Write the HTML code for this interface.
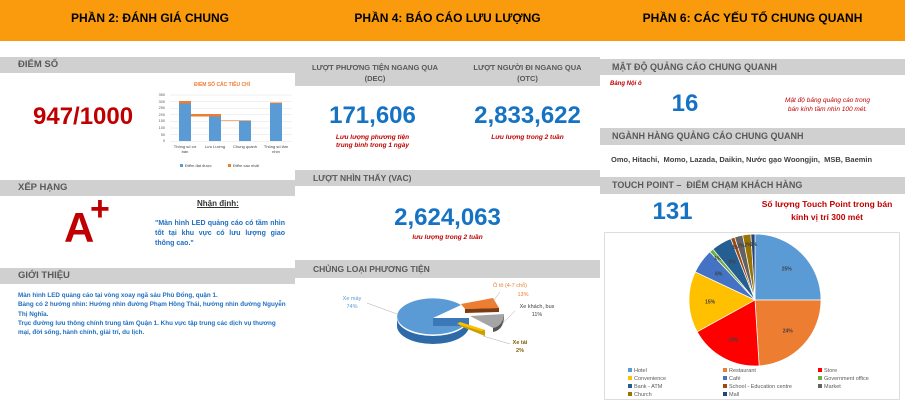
<!DOCTYPE html>
<html><head><meta charset="utf-8">
<style>
*{margin:0;padding:0;box-sizing:border-box}
body{width:905px;height:403px;background:#fff;position:relative;overflow:hidden;font-family:"Liberation Sans","Noto Sans CJK SC",sans-serif}
.a{position:absolute;white-space:nowrap}
.hdr{position:absolute;top:0;height:41px;background:#f99b0c;font-weight:bold;font-size:12.5px;color:#1a1a1a;text-align:center;line-height:36px}
.bar{position:absolute;background:#d0d0d0;color:#595959;font-weight:bold;font-size:9.5px;padding-left:18px}
.big{position:absolute;font-weight:bold;color:#1672c3;text-align:center}
.cap{position:absolute;color:#c00000;font-style:italic;font-weight:bold;font-size:6.5px;text-align:center}
</style></head><body>
<div class="hdr" style="left:0;width:905px"></div>
<div class="a" style="left:0;width:300px;top:11px;text-align:center;font-weight:bold;font-size:12px">PHẦN 2: ĐÁNH GIÁ CHUNG</div>
<div class="a" style="left:295px;width:305px;top:11px;text-align:center;font-weight:bold;font-size:12px">PHẦN 4: BÁO CÁO LƯU LƯỢNG</div>
<div class="a" style="left:600px;width:305px;top:11px;text-align:center;font-weight:bold;font-size:12px">PHẦN 6: CÁC YẾU TỐ CHUNG QUANH</div>

<!-- LEFT -->
<div class="bar" style="left:0;top:57px;width:295px;height:16px;line-height:16px">ĐIỂM SỐ</div>
<div class="a" style="left:33px;top:103px;font-size:24px;font-weight:bold;color:#c00000">947/1000</div>
<svg class="a" style="left:150px;top:76px" width="145" height="100">
 <text x="72" y="10" font-size="5" fill="#ed7d31" font-weight="bold" text-anchor="middle" font-family="Liberation Sans">ĐIỂM SỐ CÁC TIÊU CHÍ</text>
 <g stroke="#e0e0e0" stroke-width="0.5">
  <line x1="20" x2="142" y1="19" y2="19"/><line x1="20" x2="142" y1="25.6" y2="25.6"/><line x1="20" x2="142" y1="32.2" y2="32.2"/><line x1="20" x2="142" y1="38.8" y2="38.8"/><line x1="20" x2="142" y1="45.4" y2="45.4"/><line x1="20" x2="142" y1="52" y2="52"/><line x1="20" x2="142" y1="58.6" y2="58.6"/><line x1="20" x2="142" y1="65.2" y2="65.2"/>
 </g>
 <g font-size="3.8" fill="#595959" font-family="Liberation Sans" text-anchor="end">
  <text x="15" y="20">350</text><text x="15" y="27">300</text><text x="15" y="33">250</text><text x="15" y="40">200</text><text x="15" y="46">150</text><text x="15" y="53">100</text><text x="15" y="60">50</text><text x="15" y="66">0</text>
 </g>
 <rect x="29" y="27" width="12" height="38" fill="#5b9bd5"/><rect x="29" y="25" width="12" height="2.5" fill="#ed7d31"/>
 <rect x="59" y="40" width="12" height="25" fill="#5b9bd5"/><rect x="41" y="38" width="30" height="2.5" fill="#ed7d31"/>
 <rect x="89" y="45" width="12" height="20" fill="#5b9bd5"/><rect x="71" y="44" width="30" height="1" fill="#f4b183"/>
 <rect x="120" y="27" width="12" height="38" fill="#5b9bd5"/><rect x="120" y="26.5" width="12" height="1" fill="#ed7d31"/>
 <g font-size="4" fill="#404040" font-family="Liberation Sans" text-anchor="middle">
  <text x="35" y="72">Thông số cơ</text><text x="35" y="77">bán</text><text x="65" y="72">Lưu Lượng</text><text x="95" y="72">Chung quanh</text><text x="126" y="72">Thông số lâm</text><text x="126" y="77">nhìn</text>
 </g>
 <rect x="30" y="88" width="3" height="3" fill="#5b9bd5"/><text x="35" y="91" font-size="4" fill="#404040" font-family="Liberation Sans">Điểm đạt được</text>
 <rect x="78" y="88" width="3" height="3" fill="#ed7d31"/><text x="83" y="91" font-size="4" fill="#404040" font-family="Liberation Sans">Điểm cao nhất</text>
</svg>
<div class="bar" style="left:0;top:180px;width:295px;height:16px;line-height:16px">XẾP HẠNG</div>
<div class="a" style="left:64px;top:207px;font-size:42px;font-weight:bold;color:#c00000;line-height:1">A</div>
<div class="a" style="left:90px;top:192px;font-size:34px;font-weight:bold;color:#c00000;line-height:1">+</div>
<div class="a" style="left:197px;top:199px;font-size:8px;font-weight:bold;text-decoration:underline;color:#333">Nhận định:</div>
<div class="a" style="left:155px;top:219px;width:130px;white-space:normal;font-size:7px;font-weight:bold;color:#1f6fc0;line-height:10px;text-align:justify">"Màn hình LED quảng cáo có tầm nhìn tốt tại khu vực có lưu lượng giao thông cao."</div>
<div class="bar" style="left:0;top:268px;width:295px;height:16px;line-height:16px">GIỚI THIỆU</div>
<div class="a" style="left:18px;top:291px;width:272px;white-space:normal;font-size:6.3px;font-weight:bold;color:#1f6fc0;line-height:9.3px">Màn hình LED quảng cáo tại vòng xoay ngã sáu Phù Đổng, quận 1.<br>Bảng có 2 hướng nhìn: Hướng nhìn đường Phạm Hồng Thái, hướng nhìn đường Nguyễn Thị Nghĩa.<br>Trục đường lưu thông chính trung tâm Quận 1. Khu vực tập trung các dịch vụ thương mại, đời sống, hành chính, giải trí, du lịch.</div>

<!-- MIDDLE -->
<div class="bar" style="left:295px;top:57px;width:305px;height:29px;padding:0"></div>
<div class="a" style="left:300px;top:62px;width:150px;text-align:center;font-size:7.5px;font-weight:bold;color:#595959;line-height:11px">LƯỢT PHƯƠNG TIỆN NGANG QUA<br>(DEC)</div>
<div class="a" style="left:455px;top:62px;width:145px;text-align:center;font-size:7.5px;font-weight:bold;color:#595959;line-height:11px">LƯỢT NGƯỜI ĐI NGANG QUA<br>(OTC)</div>
<div class="big" style="left:300px;width:145px;top:102px;font-size:24px">171,606</div>
<div class="cap" style="left:300px;width:145px;top:134px;line-height:8px">Lưu lượng phương tiện<br>trung bình trong 1 ngày</div>
<div class="big" style="left:455px;width:145px;top:102px;font-size:24px">2,833,622</div>
<div class="cap" style="left:455px;width:145px;top:134px">Lưu lượng trong 2 tuần</div>
<div class="bar" style="left:295px;top:170px;width:305px;height:16px;line-height:16px;font-size:8.5px">LƯỢT NHÌN THẤY (VAC)</div>
<div class="big" style="left:295px;width:305px;top:204px;font-size:24px">2,624,063</div>
<div class="cap" style="left:295px;width:305px;top:234px">lưu lượng trong 2 tuần</div>
<div class="bar" style="left:295px;top:260px;width:305px;height:18px;line-height:18px;font-size:8.5px">CHỦNG LOẠI PHƯƠNG TIỆN</div>
<svg class="a" style="left:295px;top:278px" width="305" height="80">
 <text x="57" y="22" font-size="5.5" fill="#5b9bd5" font-family="Liberation Sans" text-anchor="middle">Xe máy</text>
 <text x="57" y="30" font-size="5.5" fill="#5b9bd5" font-family="Liberation Sans" text-anchor="middle">74%</text>
 <line x1="72" y1="25" x2="102" y2="36" stroke="#aaa" stroke-width="0.5"/>
 <path d="M102 40 A36 18 0 0 0 174 40 L174 48 A36 18 0 0 1 102 48 Z" fill="#2e6aa8"/>
 <path d="M138 40 L166 27 A36 18 0 1 0 174 40 Z" fill="#5b9bd5"/>
 <path d="M138 40 L174 40 L174 48 L138 48 Z" fill="#3a78b8"/>
 <path d="M166 26 L198 20 L204 30 L170 31 Z" fill="#ed7d31"/><path d="M170 31 L204 30 L204 34 L170 35Z" fill="#7a3a12"/>
 <path d="M175 38 L209 36 Q208 48 198 50 Z" fill="#a5a5a5"/><path d="M198 50 Q208 48 209 36 L209 40 Q208 52 198 54Z" fill="#555"/>
 <path d="M165 44 L190 52 L190 58 L165 48Z" fill="#c9a000"/><path d="M165 44 L190 52 L186 53 L162 46Z" fill="#ffc000"/>
 <line x1="196" y1="26" x2="205" y2="14" stroke="#aaa" stroke-width="0.5"/>
 <text x="215" y="9" font-size="5.5" fill="#ed7d31" font-family="Liberation Sans" text-anchor="middle">Ô tô (4-7 chỗ)</text>
 <text x="228" y="18" font-size="5.5" fill="#ed7d31" font-family="Liberation Sans" text-anchor="middle">13%</text>
 <line x1="207" y1="46" x2="220" y2="33" stroke="#aaa" stroke-width="0.5"/>
 <text x="242" y="30" font-size="5.5" fill="#404040" font-family="Liberation Sans" text-anchor="middle">Xe khách, bus</text>
 <text x="242" y="38" font-size="5.5" fill="#404040" font-family="Liberation Sans" text-anchor="middle">11%</text>
 <line x1="188" y1="58" x2="215" y2="66" stroke="#aaa" stroke-width="0.5"/>
 <text x="225" y="66" font-size="5.5" fill="#806000" font-family="Liberation Sans" text-anchor="middle" font-weight="bold">Xe tải</text>
 <text x="225" y="74" font-size="5.5" fill="#806000" font-family="Liberation Sans" text-anchor="middle" font-weight="bold">2%</text>
</svg>

<!-- RIGHT -->
<div class="bar" style="left:600px;top:59px;width:305px;height:16px;line-height:16px;padding-left:12px;font-size:9px">MẬT ĐỘ QUẢNG CÁO CHUNG QUANH</div>
<div class="a" style="left:610px;top:81px;font-size:6px;font-style:italic;font-weight:bold;color:#c00000">Bảng Nội ô</div>
<div class="big" style="left:660px;width:50px;top:90px;font-size:24px">16</div>
<div class="cap" style="left:765px;width:125px;top:96px;line-height:9px;font-size:6.5px;font-weight:normal">Mật độ bảng quảng cáo trong<br>bán kính tầm nhìn 100 mét.</div>
<div class="bar" style="left:600px;top:128px;width:305px;height:17px;line-height:17px;padding-left:12px;font-size:9px">NGÀNH HÀNG QUẢNG CÁO CHUNG QUANH</div>
<div class="a" style="left:611px;top:155px;font-size:7.5px;font-weight:bold;color:#404040">Omo, Hitachi,&nbsp; Momo, Lazada, Daikin, Nước gạo Woongjin,&nbsp; MSB, Baemin</div>
<div class="bar" style="left:600px;top:177px;width:305px;height:17px;line-height:17px;padding-left:12px;font-size:9px">TOUCH POINT –&nbsp; ĐIỂM CHẠM KHÁCH HÀNG</div>
<div class="big" style="left:645px;width:55px;top:198px;font-size:24px">131</div>
<div class="a" style="left:752px;width:150px;top:198px;text-align:center;font-size:8.5px;font-weight:bold;color:#c00000;line-height:13px">Số lượng Touch Point trong bán<br>kính vị trí 300 mét</div>
<div class="a" style="left:604px;top:232px;width:296px;height:168px;border:1px solid #ddd"></div>
<svg id="pie" class="a" style="left:600px;top:225px" width="305" height="178"></svg>
<script>
var d=[[25,"#5b9bd5","Hotel"],[24,"#ed7d31","Restaurant"],[18,"#ff0000","Store"],[15,"#ffc000","Convenience"],[6,"#4472c4","Café"],[1,"#70ad47","Government office"],[5,"#255e91","Bank - ATM"],[1,"#9e480e","School - Education centre"],[2,"#636363","Market"],[2,"#997300","Church"],[1,"#264478","Mall"]];
var cx=155,cy=75,r=66,a=0,s="";
d.forEach(function(e){var a2=a+e[0]/100*2*Math.PI;var x1=cx+r*Math.sin(a),y1=cy-r*Math.cos(a),x2=cx+r*Math.sin(a2),y2=cy-r*Math.cos(a2);
s+='<path d="M'+cx+' '+cy+' L'+x1+' '+y1+' A'+r+' '+r+' 0 '+((a2-a)>Math.PI?1:0)+' 1 '+x2+' '+y2+' Z" fill="'+e[1]+'" stroke="#fff" stroke-width="0.7"/>';
var m=(a+a2)/2,rr=e[0]>3?r*0.68:r*0.85;s+='<text x="'+(cx+rr*Math.sin(m))+'" y="'+(cy-rr*Math.cos(m)+2)+'" font-size="5" font-weight="bold" fill="#404040" text-anchor="middle" font-family="Liberation Sans">'+e[0]+'%</text>';a=a2;});
d.forEach(function(e,i){var col=i%3,row=Math.floor(i/3);var x=28+col*95,y=147+row*8;s+='<rect x="'+x+'" y="'+(y-4)+'" width="4" height="4" fill="'+e[1]+'"/><text x="'+(x+6)+'" y="'+y+'" font-size="5.5" fill="#595959" font-family="Liberation Sans">'+e[2]+'</text>';});
document.getElementById("pie").innerHTML=s;
</script>
</body></html>
